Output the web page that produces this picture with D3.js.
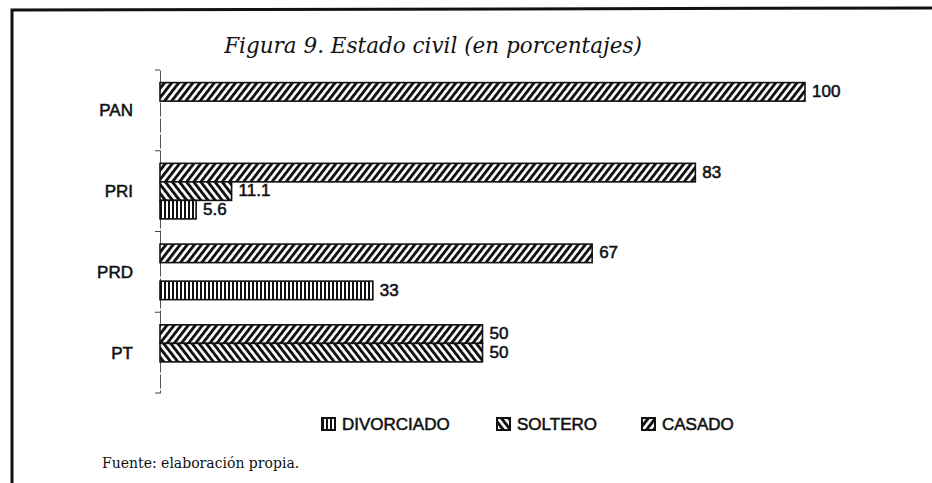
<!DOCTYPE html>
<html>
<head>
<meta charset="utf-8">
<script src="https://cdnjs.cloudflare.com/ajax/libs/d3/7.8.5/d3.min.js"></script>
<style>
  body { margin: 0; background: #fff; }
  svg { display: block; }
  .sans { font-family: "Liberation Sans", Arial, sans-serif; fill: #111; stroke: #111; stroke-width: 0.55px; }
</style>
</head>
<body>
<div class="chart"></div>
<script>
// DATA //
var categories = ['PAN', 'PRI', 'PRD', 'PT'];
var seriesNames = ['CASADO', 'SOLTERO', 'DIVORCIADO'];   // order inside each band, top to bottom
var casado = [100, 83, 67, 50];
var soltero = [0, 11.1, 0, 50];
var divorciado = [0, 5.6, 33, 0];
var valueLabels = { CASADO: ['100', '83', '67', '50'], SOLTERO: ['', '11.1', '', '50'], DIVORCIADO: ['', '5.6', '33', ''] };
var legendOrder = ['DIVORCIADO', 'SOLTERO', 'CASADO'];
var title = 'Figura 9. Estado civil (en porcentajes)';
var source = 'Fuente: elaboración propia.';

var values = { CASADO: casado, SOLTERO: soltero, DIVORCIADO: divorciado };

var width = 932, height = 483;

var svg = d3.select('.chart').append('svg')
    .attr('width', width)
    .attr('height', height);

// patterns
var defs = svg.append('defs');
function stripes(id, angle, size, stroke) {
    var p = defs.append('pattern')
        .attr('id', id)
        .attr('patternUnits', 'userSpaceOnUse')
        .attr('width', size).attr('height', size)
        .attr('patternTransform', 'rotate(' + angle + ')');
    p.append('rect').attr('width', size).attr('height', size).attr('fill', '#fff');
    p.append('rect').attr('width', stroke).attr('height', size).attr('fill', '#111');
}
stripes('pat-CASADO', 38, 5.6, 2.9);
stripes('pat-SOLTERO', -38, 5.6, 2.9);
stripes('pat-DIVORCIADO', 0, 4, 2);

// frame (only top and left edges visible)
svg.append('path')
    .attr('d', 'M12,483 L12,10 L932,8')
    .attr('fill', 'none')
    .attr('stroke', '#111')
    .attr('stroke-width', 3);

// title
svg.append('text')
    .attr('x', 433).attr('y', 53)
    .attr('text-anchor', 'middle')
    .style('font-family', '"DejaVu Serif", serif')
    .style('font-style', 'italic')
    .style('font-size', '21.5px')
    .style('fill', '#111')
    .text(title);

// scales
var x = d3.scaleLinear().domain([0, 100]).range([160, 805]);
var y = d3.scaleBand().domain(categories).range([70, 393]).paddingInner(0);
var ySub = d3.scaleBand().domain(seriesNames).range([0, y.bandwidth()]).paddingInner(0).paddingOuter(0.68);

// axis
var yAxis = svg.append('g')
    .attr('transform', 'translate(' + x(0) + ',0)')
    .call(d3.axisLeft(y).tickSize(0).tickFormat(''));
yAxis.select('.domain').attr('stroke', '#555').attr('stroke-width', 1).attr('stroke-dasharray', '14,2');
yAxis.selectAll('.tick').remove();
var bounds = categories.map(function(c) { return y(c); }).concat([y.range()[1]]);
svg.selectAll('.btick')
    .data(bounds).enter().append('line')
    .attr('class', 'btick')
    .attr('x1', x(0) - 5).attr('x2', x(0))
    .attr('y1', function(d) { return d; })
    .attr('y2', function(d) { return d; })
    .attr('stroke', '#444');

// category labels
svg.selectAll('.cat')
    .data(categories).enter().append('text')
    .attr('class', 'sans cat')
    .attr('x', 133)
    .attr('y', function(d) { return y(d) + y.bandwidth() / 2; })
    .attr('dy', '0.36em')
    .attr('text-anchor', 'end')
    .style('font-size', '17px')
    .text(function(d) { return d; });

// bars
var rows = [];
seriesNames.forEach(function(s) {
    categories.forEach(function(c, i) {
        rows.push({ series: s, cat: c, value: values[s][i], label: valueLabels[s][i] });
    });
});
rows = rows.filter(function(d) { return d.value > 0; });

var bars = svg.append('g');
bars.selectAll('rect')
    .data(rows).enter().append('rect')
    .attr('x', x(0))
    .attr('y', function(d) { return y(d.cat) + ySub(d.series); })
    .attr('width', function(d) { return x(d.value) - x(0); })
    .attr('height', ySub.bandwidth())
    .attr('fill', function(d) { return 'url(#pat-' + d.series + ')'; })
    .attr('stroke', '#111')
    .attr('stroke-width', 1.6);

bars.selectAll('text')
    .data(rows).enter().append('text')
    .attr('class', 'sans')
    .attr('x', function(d) { return x(d.value) + 7; })
    .attr('y', function(d) { return y(d.cat) + ySub(d.series) + ySub.bandwidth() / 2 - 1; })
    .attr('dy', '0.36em')
    .style('font-size', '17px')
    .text(function(d) { return d.label; });

// legend
var legendX = { DIVORCIADO: 322, SOLTERO: 497, CASADO: 642 };
var legend = svg.selectAll('.leg')
    .data(legendOrder).enter().append('g')
    .attr('class', 'leg')
    .attr('transform', function(d) { return 'translate(' + legendX[d] + ',424)'; });
legend.append('rect')
    .attr('x', 0).attr('y', -6)
    .attr('width', 13).attr('height', 12)
    .attr('fill', function(d) { return 'url(#pat-' + d + ')'; })
    .attr('stroke', '#111')
    .attr('stroke-width', 2);
legend.append('text')
    .attr('class', 'sans')
    .attr('x', 20)
    .attr('dy', '0.36em')
    .style('font-size', '17px')
    .text(function(d) { return d; });

// source note
svg.append('text')
    .attr('x', 102).attr('y', 468)
    .style('font-family', '"DejaVu Serif", serif')
    .style('font-size', '14px')
    .style('fill', '#111')
    .text(source);
</script>
</body>
</html>
